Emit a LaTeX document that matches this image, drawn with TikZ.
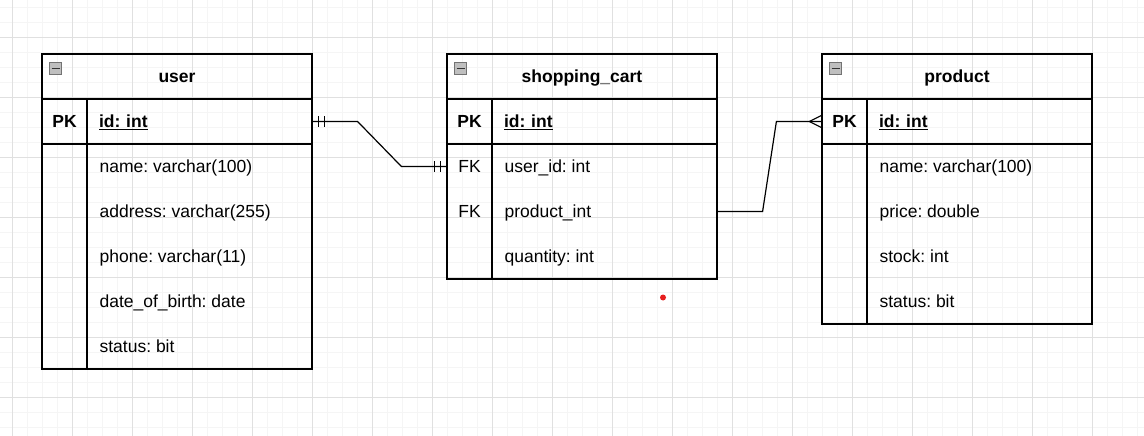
\documentclass[tikz,border=0pt]{standalone}
\usepackage{fontspec}
\setmainfont{Liberation Sans}
\frenchspacing
\definecolor{dotred}{RGB}{230,30,30}
\begin{document}
\begin{tikzpicture}[x=1pt, y=-1pt, line width=1.2pt,
    every node/.style={text height=12pt, text depth=0pt, font=\fontsize{17.5}{20}\selectfont},
    hnode/.style={draw, minimum width=270pt, minimum height=45pt, inner sep=0pt, font=\fontsize{17.5}{20}\selectfont\bfseries},
    knode/.style={draw, minimum width=45pt, inner sep=0pt},
    fnode/.style={draw, text width=201pt, inner xsep=12pt, inner ysep=0pt, align=left},
    tnode/.style={anchor=west, inner sep=0pt},
    mnode/.style={draw=black!55, fill=black!25, minimum size=12pt, inner sep=0pt, text height=0pt, line width=1pt},
    gminor/.style={draw=black!4, line width=0.8pt},
    gmajor/.style={draw=black!12, line width=0.8pt}]
    \useasboundingbox (0,0) rectangle (1144,436);

    % grid
    \foreach \x in {12,27,...,1144} \draw[gminor] (\x,0) -- (\x,436);
    \foreach \y in {7,22,...,436} \draw[gminor] (0,\y) -- (1144,\y);
    \foreach \x in {12,72,...,1144} \draw[gmajor] (\x,0) -- (\x,436);
    \foreach \y in {37,97,...,436} \draw[gmajor] (0,\y) -- (1144,\y);

    % user
    \node[hnode] (user) at (177,76.5) {user};
    \node[mnode] (user-min) at (55.5,68.5) {};
    \draw[line width=1.5pt, black!80] ([xshift=2.5pt]user-min.west) -- ([xshift=-2.5pt]user-min.east);
    \node[knode, minimum height=45pt] (user-pk) at (64.5,121.5) {\textbf{PK}};
    \node[fnode, minimum height=45pt] (user-id) at (199.5,121.5) {\underline{\textbf{id: int}}};
    \node[knode, minimum height=225pt] (user-kb) at (64.5,256.5) {};
    \node[fnode, minimum height=225pt] (user-fb) at (199.5,256.5) {};
    \foreach \t [count=\i] in {name: varchar(100), address: varchar(255), phone: varchar(11), date\_of\_birth: date, status: bit}
        \node[tnode] (user-f\i) at (99,121.5+45*\i) {\t};

    % shopping_cart
    \node[hnode] (cart) at (582,76.5) {shopping\_cart};
    \node[mnode] (cart-min) at (460.5,68.5) {};
    \draw[line width=1.5pt, black!80] ([xshift=2.5pt]cart-min.west) -- ([xshift=-2.5pt]cart-min.east);
    \node[knode, minimum height=45pt] (cart-pk) at (469.5,121.5) {\textbf{PK}};
    \node[fnode, minimum height=45pt] (cart-id) at (604.5,121.5) {\underline{\textbf{id: int}}};
    \node[knode, minimum height=135pt] (cart-kb) at (469.5,211.5) {};
    \node[fnode, minimum height=135pt] (cart-fb) at (604.5,211.5) {};
    \node (cart-fk1) at (469.5,166.5) {FK};
    \node (cart-fk2) at (469.5,211.5) {FK};
    \foreach \t [count=\i] in {user\_id: int, product\_int, quantity: int}
        \node[tnode] (cart-f\i) at (504,121.5+45*\i) {\t};

    % product
    \node[hnode] (product) at (957,76.5) {product};
    \node[mnode] (product-min) at (835.5,68.5) {};
    \draw[line width=1.5pt, black!80] ([xshift=2.5pt]product-min.west) -- ([xshift=-2.5pt]product-min.east);
    \node[knode, minimum height=45pt] (product-pk) at (844.5,121.5) {\textbf{PK}};
    \node[fnode, minimum height=45pt] (product-id) at (979.5,121.5) {\underline{\textbf{id: int}}};
    \node[knode, minimum height=180pt] (product-kb) at (844.5,234) {};
    \node[fnode, minimum height=180pt] (product-fb) at (979.5,234) {};
    \foreach \t [count=\i] in {name: varchar(100), price: double, stock: int, status: bit}
        \node[tnode] (product-f\i) at (879,121.5+45*\i) {\t};

    % relations
    \coordinate (cart-uid) at (cart-kb.west |- cart-f1);
    \coordinate (cart-pid) at (cart-fb.east |- cart-f2);
    \draw (user-id.east) -- ++(45,0) -- ([xshift=-45pt]cart-uid) -- (cart-uid);
    \draw ([xshift=6pt]user-id.east) ++(0,-5.5) -- ++(0,11);
    \draw ([xshift=12pt]user-id.east) ++(0,-5.5) -- ++(0,11);
    \draw ([xshift=-6pt]cart-uid) ++(0,-5.5) -- ++(0,11);
    \draw ([xshift=-12pt]cart-uid) ++(0,-5.5) -- ++(0,11);
    \draw (cart-pid) -- ++(45,0) -- ([xshift=-45pt]product-pk.west) -- (product-pk.west);
    \draw ([xshift=-12pt]product-pk.west) -- ++(12,-6);
    \draw ([xshift=-12pt]product-pk.west) -- ++(12,6);

    \node[circle, fill=dotred, minimum size=6pt, inner sep=0pt, text height=0pt] (dot) at (663,297.5) {};
\end{tikzpicture}
\end{document}
